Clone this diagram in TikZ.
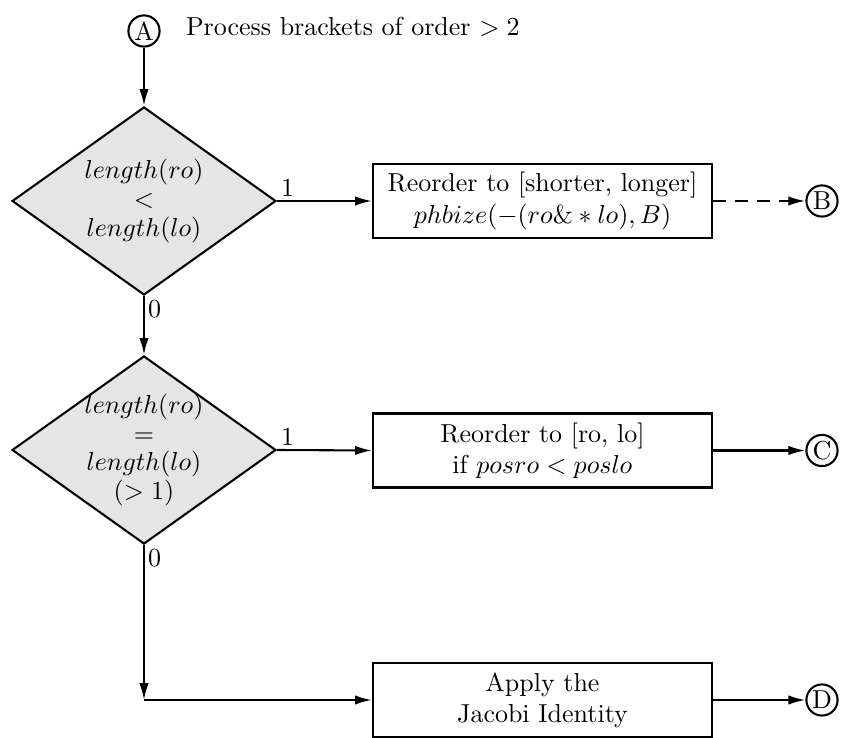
\documentclass[tikz,border=0pt]{standalone}
\usetikzlibrary{shapes.geometric,arrows.meta}
\begin{document}
\begin{tikzpicture}[x=0.385pt,y=-0.385pt,line width=0.8pt,
  decision/.style={diamond,draw,fill=gray!20,minimum width=101.6pt,minimum height=72.4pt,inner sep=0pt},
  stepbox/.style={rectangle,draw,minimum width=130.5pt,minimum height=28.5pt,align=center,inner sep=0pt},
  conn/.style={circle,draw,minimum size=12pt,inner sep=0pt},
  arr/.style={-{Latex[length=6.5pt,width=3.6pt]}},
  cond/.style={align=center,font=\fontsize{10}{11}\selectfont},
  edgelbl/.style={inner sep=1.2pt}]
\useasboundingbox (0,0) rectangle (848,738);

% entry point and heading
\node[conn] (A) at (144,31) {A};
\node[anchor=base west,inner sep=0pt] (title) at (185,36) {Process brackets of order $>2$};

% decisions
\node[decision] (d1) at (144,201) {};
\node[cond] (t1) at (d1) {$length(ro)$\\$<$\\$length(lo)$};
\node[decision] (d2) at (144,450) {};
\node[cond] (t2) at (d2) {$length(ro)$\\$=$\\$length(lo)$\\$(>1)$};

% actions
\node[stepbox] (b1) at (542.5,201) {Reorder to [shorter, longer]\\$phbize(-(ro\& * lo), B)$};
\node[stepbox] (b2) at (542.5,450.5) {Reorder to [ro, lo]\\if $posro < poslo$};
\node[stepbox] (b3) at (542.5,700) {Apply the\\Jacobi Identity};

% exits
\node[conn] (B) at (822,201) {B};
\node[conn] (C) at (822,450.5) {C};
\node[conn] (D) at (822,700) {D};
\coordinate (j) at (144,700);

% connectors
\draw[arr] (A) -- (d1.north);
\draw[arr] (d1.east) -- (b1.west);
\draw[arr,dash pattern=on 5pt off 3.5pt] (b1.east) -- (B);
\draw[arr] (d1.south) -- (d2.north);
\draw[arr] (d2.east) -- (b2.west);
\draw[arr] (b2.east) -- (C);
\draw[arr] (d2.south) -- (j);
\draw[arr] (j) -- (b3.west);
\draw[arr] (b3.east) -- (D);

% branch labels
\node[edgelbl,anchor=south west] (l11) at (d1.east) {1};
\node[edgelbl,anchor=north west] (l10) at (d1.south) {0};
\node[edgelbl,anchor=south west] (l21) at (d2.east) {1};
\node[edgelbl,anchor=north west] (l20) at (d2.south) {0};
\end{tikzpicture}
\end{document}
